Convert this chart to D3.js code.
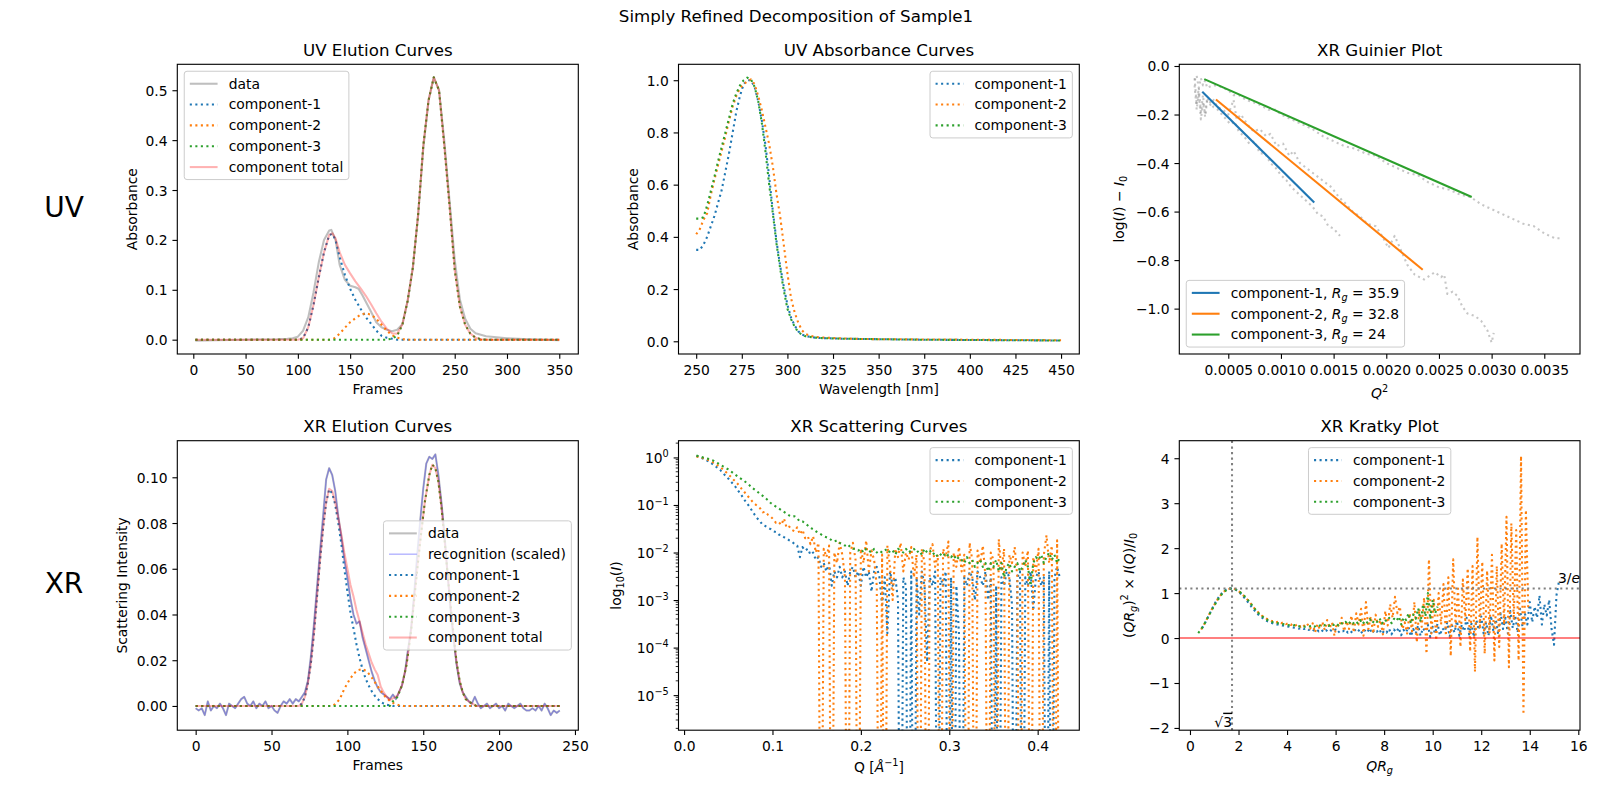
<!DOCTYPE html>
<html><head><meta charset="utf-8">
<script src="https://cdn.jsdelivr.net/npm/d3@7/dist/d3.min.js"></script>
<style>
body{margin:0;background:#fff;}
text{font-family:"DejaVu Sans",sans-serif;}
</style></head>
<body>
<svg id="fig" width="1597" height="789" xmlns="http://www.w3.org/2000/svg"></svg>
<script>
// ======================= DATA =======================
const componentNames = ["component-1","component-2","component-3"];
const rgValues = ["35.9","32.8","24"];

// ---- UV elution: [frame, absorbance]
const uvFrameTicks = [0,50,100,150,200,250,300,350];
const uvAbsTicks = [0,0.1,0.2,0.3,0.4,0.5];
const uvElutionData = [[2,-0.002],[20,-0.001],[50,0],[80,0.001],[90,0.002],[95,0.003],[100,0.006],[105,0.018],[110,0.045],[115,0.095],[120,0.155],[125,0.2],[130,0.219],[132,0.22],[136,0.2],[140,0.15],[145,0.12],[150,0.108],[155,0.105],[158,0.102],[162,0.088],[166,0.072],[170,0.056],[175,0.035],[180,0.025],[185,0.02],[190,0.017],[195,0.02],[200,0.031],[205,0.078],[210,0.145],[215,0.25],[220,0.385],[225,0.48],[230,0.526],[235,0.5],[240,0.4],[245,0.28],[250,0.16],[255,0.08],[260,0.042],[265,0.022],[270,0.013],[280,0.007],[290,0.005],[300,0.003],[320,0.001],[350,-0.001]];
const uvElutionC1 = [[2,0],[100,0],[105,0.003],[110,0.025],[115,0.07],[120,0.125],[125,0.175],[130,0.21],[133,0.212],[136,0.2],[140,0.165],[145,0.13],[150,0.102],[155,0.08],[160,0.062],[165,0.045],[170,0.032],[175,0.018],[180,0.008],[185,0.004],[190,0.002],[195,0],[350,0]];
const uvElutionC2 = [[2,0],[130,0],[135,0.003],[140,0.012],[145,0.024],[150,0.035],[155,0.043],[160,0.05],[165,0.053],[170,0.05],[175,0.042],[180,0.03],[185,0.018],[190,0.009],[195,0.004],[200,0.001],[205,0],[350,0]];
const uvElutionC3 = [[2,0],[185,0],[190,0.002],[195,0.008],[200,0.03],[205,0.078],[210,0.145],[215,0.25],[220,0.39],[225,0.48],[230,0.526],[235,0.5],[240,0.39],[245,0.27],[250,0.14],[255,0.066],[260,0.03],[265,0.012],[270,0.004],[275,0.001],[280,0],[350,0]];
const uvElutionTotal = [[2,0],[100,0],[105,0.003],[110,0.025],[115,0.07],[120,0.125],[125,0.175],[130,0.21],[133,0.213],[136,0.203],[140,0.175],[145,0.15],[150,0.133],[155,0.117],[160,0.103],[165,0.088],[170,0.071],[175,0.053],[180,0.036],[185,0.022],[190,0.013],[195,0.012],[200,0.031],[205,0.078],[210,0.145],[215,0.25],[220,0.39],[225,0.48],[230,0.526],[235,0.5],[240,0.39],[245,0.27],[250,0.14],[255,0.066],[260,0.03],[265,0.012],[270,0.004],[275,0.001],[280,0],[350,0]];

// ---- UV absorbance: [wavelength, absorbance]
const wlTicks = [250,275,300,325,350,375,400,425,450];
const absTicks = [0,0.2,0.4,0.6,0.8,1.0];
const uvAbsC1 = [[250,0.35],[252,0.35],[254,0.37],[256,0.40],[258,0.44],[260,0.48],[262,0.53],[264,0.58],[266,0.65],[268,0.72],[270,0.80],[272,0.88],[274,0.94],[276,0.985],[278,1.0],[280,1.0],[282,0.975],[284,0.92],[286,0.845],[288,0.75],[290,0.63],[292,0.50],[294,0.385],[296,0.29],[298,0.21],[300,0.14],[302,0.09],[304,0.06],[306,0.038],[308,0.026],[310,0.02],[315,0.014],[320,0.012],[330,0.01],[340,0.009],[350,0.008],[375,0.006],[400,0.005],[425,0.004],[450,0.003]];
const uvAbsC2 = [[250,0.41],[252,0.43],[254,0.465],[256,0.49],[258,0.56],[260,0.62],[262,0.675],[264,0.73],[266,0.785],[268,0.845],[270,0.9],[272,0.94],[274,0.97],[276,0.985],[278,0.995],[280,1.003],[282,0.985],[284,0.94],[286,0.885],[288,0.82],[290,0.755],[292,0.67],[294,0.565],[296,0.48],[298,0.37],[300,0.26],[302,0.165],[304,0.11],[306,0.07],[308,0.042],[310,0.028],[312,0.022],[315,0.017],[320,0.014],[330,0.011],[340,0.009],[350,0.008],[375,0.007],[400,0.006],[425,0.005],[450,0.004]];
const uvAbsC3 = [[250,0.47],[252,0.47],[254,0.475],[256,0.52],[258,0.575],[260,0.63],[262,0.69],[264,0.745],[266,0.8],[268,0.855],[270,0.91],[272,0.95],[274,0.98],[276,1.0],[278,1.01],[280,1.003],[282,0.975],[284,0.92],[286,0.835],[288,0.725],[290,0.6],[292,0.49],[294,0.375],[296,0.28],[298,0.195],[300,0.125],[302,0.085],[304,0.055],[306,0.035],[308,0.025],[310,0.019],[315,0.014],[320,0.012],[330,0.01],[340,0.009],[350,0.008],[375,0.006],[400,0.005],[425,0.004],[450,0.003]];

// ---- Guinier: [Q^2, log(I)-I0]
const q2Ticks = [0.0005,0.0010,0.0015,0.0020,0.0025,0.0030,0.0035];
const guinierTicks = [-1.0,-0.8,-0.6,-0.4,-0.2,0.0];
const guinierData1 = [[0.00018,-0.05],[0.0002,-0.16],[0.00022,-0.09],[0.00024,-0.19],[0.00026,-0.12],[0.00028,-0.21],[0.0003,-0.14],[0.00033,-0.15],[0.00036,-0.17],[0.0004,-0.18],[0.00044,-0.2],[0.00048,-0.22],[0.00052,-0.24],[0.00056,-0.23],[0.0006,-0.27],[0.00065,-0.29],[0.0007,-0.32],[0.00075,-0.31],[0.0008,-0.36],[0.00085,-0.36],[0.0009,-0.4],[0.00095,-0.42],[0.001,-0.45],[0.00105,-0.47],[0.0011,-0.5],[0.00115,-0.52],[0.0012,-0.54],[0.00125,-0.56],[0.0013,-0.58],[0.00135,-0.61],[0.0014,-0.62],[0.00145,-0.66],[0.0015,-0.67],[0.00156,-0.7]];
const guinierData2 = [[0.00018,-0.08],[0.0002,-0.18],[0.00022,-0.11],[0.00024,-0.22],[0.00026,-0.15],[0.00028,-0.2],[0.0003,-0.13],[0.00033,-0.16],[0.00036,-0.14],[0.0004,-0.17],[0.00045,-0.18],[0.0005,-0.2],[0.00055,-0.14],[0.00058,-0.22],[0.00062,-0.2],[0.00068,-0.24],[0.00074,-0.27],[0.0008,-0.26],[0.00086,-0.29],[0.0009,-0.28],[0.00096,-0.33],[0.00102,-0.32],[0.00108,-0.37],[0.00112,-0.35],[0.00118,-0.4],[0.00124,-0.42],[0.0013,-0.44],[0.00136,-0.46],[0.00142,-0.48],[0.00148,-0.5],[0.00155,-0.54],[0.00162,-0.57],[0.00168,-0.6],[0.00175,-0.62],[0.00182,-0.65],[0.0019,-0.66],[0.00196,-0.7],[0.00202,-0.75],[0.00208,-0.7],[0.00214,-0.76],[0.0022,-0.82],[0.00227,-0.86],[0.00236,-0.88],[0.00246,-0.85],[0.00252,-0.87],[0.00255,-0.86],[0.00258,-0.94],[0.00263,-0.93],[0.00268,-0.95],[0.00272,-0.99],[0.00277,-1.02],[0.00284,-1.03],[0.0029,-1.05],[0.00296,-1.09],[0.003,-1.14],[0.00302,-1.1]];
const guinierData3 = [[0.00018,-0.06],[0.0002,-0.04],[0.00022,-0.09],[0.00024,-0.05],[0.00026,-0.08],[0.00028,-0.06],[0.0003,-0.09],[0.00035,-0.08],[0.0004,-0.08],[0.00045,-0.09],[0.0005,-0.1],[0.00055,-0.12],[0.0006,-0.12],[0.00067,-0.14],[0.00074,-0.15],[0.0008,-0.16],[0.00088,-0.18],[0.00095,-0.18],[0.001,-0.2],[0.0011,-0.22],[0.0012,-0.24],[0.0013,-0.26],[0.0014,-0.29],[0.0015,-0.31],[0.0016,-0.33],[0.0017,-0.34],[0.0018,-0.36],[0.0019,-0.37],[0.002,-0.4],[0.0021,-0.42],[0.0022,-0.44],[0.0023,-0.45],[0.0024,-0.48],[0.0025,-0.5],[0.0026,-0.51],[0.0027,-0.53],[0.0028,-0.54],[0.0029,-0.57],[0.003,-0.59],[0.0031,-0.61],[0.0032,-0.63],[0.0033,-0.65],[0.0034,-0.66],[0.0035,-0.69],[0.0036,-0.71],[0.00367,-0.71]];
const guinierFit1 = [[0.000253,-0.106],[0.001316,-0.563]];
const guinierFit2 = [[0.000383,-0.138],[0.002346,-0.840]];
const guinierFit3 = [[0.000272,-0.054],[0.002811,-0.540]];

// ---- XR elution: intensity sampled every 2 frames from frame 0 to 240
const xrFrameTicks = [0,50,100,150,200,250];
const xrIntTicks = [0,0.02,0.04,0.06,0.08,0.10];
const xrFrameStep = 2;
const xrElutionData = [
 -0.001,-0.002,-0.001,-0.004,0.002,-0.002,0.000,-0.001,0.001,-0.001,
 -0.004,0.001,0.000,-0.001,0.001,0.003,0.004,0.001,0.000,0.002,
 -0.001,0.001,0.000,0.002,-0.001,0.000,-0.002,-0.003,0.000,0.002,
 0.001,0.003,0.001,0.003,0.002,0.004,0.006,0.011,0.022,0.036,
 0.052,0.068,0.083,0.099,0.104,0.101,0.094,0.083,0.074,0.064,
 0.056,0.047,0.040,0.036,0.037,0.030,0.025,0.020,0.015,0.011,
 0.008,0.006,0.005,0.004,0.003,0.005,0.003,0.006,0.009,0.015,
 0.025,0.034,0.049,0.066,0.081,0.095,0.106,0.109,0.108,0.110,
 0.101,0.089,0.075,0.058,0.042,0.029,0.018,0.010,0.006,0.004,
 0.002,0.001,0.004,0.001,-0.001,0.000,0.001,-0.001,0.000,0.001,
 -0.001,0.000,-0.002,0.001,0.000,-0.001,0.000,0.001,-0.001,-0.002,
 -0.002,-0.001,-0.002,0.000,-0.002,0.001,-0.001,-0.004,-0.002,-0.003,
 -0.002];
const xrElutionC1 = [[0,0],[68,0],[70,0.001],[72,0.004],[74,0.01],[76,0.019],[78,0.032],[80,0.048],[82,0.064],[84,0.078],[86,0.089],[88,0.0947],[90,0.093],[92,0.088],[94,0.08],[96,0.071],[98,0.06],[100,0.05],[102,0.041],[104,0.034],[106,0.027],[108,0.021],[110,0.016],[112,0.012],[114,0.009],[116,0.0065],[118,0.0045],[120,0.003],[122,0.0018],[124,0.001],[126,0.0005],[130,0],[240,0]];
const xrElutionC2 = [[0,0],[90,0],[92,0.0008],[95,0.003],[98,0.0075],[101,0.011],[104,0.014],[107,0.0157],[110,0.0162],[113,0.015],[116,0.0125],[119,0.0095],[122,0.0066],[125,0.004],[128,0.0022],[131,0.001],[134,0.0003],[137,0],[240,0]];
const xrElutionC3 = [[0,0],[128,0],[130,0.002],[133,0.004],[136,0.009],[139,0.018],[142,0.033],[145,0.053],[148,0.072],[151,0.089],[154,0.101],[156,0.1055],[158,0.104],[160,0.098],[162,0.087],[164,0.073],[166,0.058],[168,0.044],[170,0.031],[172,0.019],[174,0.011],[176,0.006],[178,0.003],[181,0.0015],[185,0],[240,0]];
const xrElutionTotal = [[0,0],[68,0],[70,0.001],[72,0.004],[74,0.01],[76,0.019],[78,0.032],[80,0.048],[82,0.064],[84,0.078],[86,0.089],[88,0.095],[90,0.094],[92,0.089],[94,0.082],[96,0.075],[98,0.067],[100,0.06],[102,0.053],[104,0.048],[106,0.042],[108,0.037],[110,0.032],[112,0.027],[114,0.023],[116,0.019],[118,0.016],[120,0.0135],[122,0.0084],[124,0.0058],[126,0.004],[128,0.0025],[130,0.0033],[133,0.0045],[136,0.009],[139,0.018],[142,0.033],[145,0.053],[148,0.072],[151,0.089],[154,0.101],[156,0.1055],[158,0.104],[160,0.098],[162,0.087],[164,0.073],[166,0.058],[168,0.044],[170,0.031],[172,0.019],[174,0.011],[176,0.006],[178,0.003],[181,0.0015],[185,0],[240,0]];

// ---- XR scattering: I(Q), Q sampled uniformly from qStart to qEnd
const qTicks = [0.0,0.1,0.2,0.3,0.4];
const logITicks = [1e-5,1e-4,1e-3,1e-2,1e-1,1];
const qStart = 0.014, qEnd = 0.425;
const scatterC1 = [
 1.08,1.02,0.97,0.92,0.86,0.80,0.73,0.66,0.60,0.54,
 0.47,0.41,0.36,0.31,0.27,0.23,0.19,0.16,0.13,0.11,
 0.092,0.075,0.062,0.052,0.045,0.038,0.036,0.033,0.031,0.028,
 0.027,0.024,0.023,0.021,0.020,0.018,0.017,0.015,0.014,0.008,
 0.013,0.011,0.012,0.009,0.010,0.007,0.008,0.005,0.006,0.004,
 0.006,0.002,0.004,0.003,0.005,0.003,0.004,0.002,0.004,0.005,
 0.003,0.004,0.002,0.005,0.003,0.004,0.0015,0.004,0.005,0.003,
 0.0008,0.003,0.0002,0.004,0.002,0.003,0.001,-0.001,0.003,0.002,
 -0.002,0.004,-0.001,0.003,0.0005,0.004,0.002,0.00005,0.003,0.002,
 0.004,-0.001,0.003,0.002,0.004,-0.001,0.003,-0.002,0.002,0.0002,
 -0.001,0.003,0.002,0.004,0.003,0.001,0.004,0.003,0.002,0.004,
 0.001,0.003,-0.001,0.002,-0.001,0.003,0.002,0.004,0.003,0.0008,
 -0.001,0.003,0.004,-0.001,0.003,0.002,0.004,0.0006,0.003,0.004,
 0.002,0.003,-0.001,0.004,-0.002,0.003,0.005,0.003];
const scatterC2 = [
 1.05,1.02,0.98,0.95,0.90,0.86,0.80,0.74,0.68,0.62,
 0.56,0.50,0.44,0.39,0.34,0.30,0.26,0.22,0.19,0.16,
 0.14,0.12,0.105,0.095,0.085,0.07,0.072,0.062,0.057,0.05,
 0.042,0.044,0.038,0.052,0.033,0.035,0.03,0.028,0.034,0.024,
 0.030,0.02,0.022,0.015,0.022,0.01,0.016,-0.002,0.012,0.008,
 0.014,-0.001,0.010,0.006,0.016,0.009,0.003,-0.001,0.010,0.016,
 0.007,-0.002,0.012,0.006,0.018,0.004,0.011,0.007,0.002,-0.001,
 0.009,-0.002,0.014,0.005,0.001,0.012,0.008,0.016,0.004,0.010,
 0.007,0.013,0.003,0.009,-0.001,0.012,0.006,-0.002,0.011,0.015,
 0.005,0.009,-0.001,0.012,0.008,0.017,-0.002,0.010,0.005,0.013,
 0.004,0.009,-0.001,0.016,0.007,-0.002,0.011,0.006,0.014,0.003,
 -0.001,0.010,0.007,-0.002,0.019,0.004,0.012,-0.001,0.009,0.006,
 0.013,0.003,-0.002,0.010,0.005,0.011,-0.001,0.008,0.004,0.012,
 -0.002,0.009,0.023,0.006,0.014,-0.001,0.018,-0.002];
const scatterC3 = [
 1.10,1.05,1.02,0.98,0.95,0.92,0.88,0.82,0.76,0.70,
 0.65,0.60,0.56,0.51,0.46,0.42,0.38,0.35,0.32,0.29,
 0.26,0.23,0.21,0.19,0.17,0.155,0.14,0.125,0.11,0.10,
 0.092,0.085,0.078,0.072,0.066,0.060,0.057,0.058,0.052,0.045,
 0.045,0.041,0.037,0.033,0.031,0.028,0.026,0.024,0.022,0.021,
 0.020,0.018,0.017,0.018,0.016,0.015,0.014,0.015,0.013,0.012,
 0.012,0.011,0.012,0.010,0.012,0.011,0.010,0.012,0.010,0.011,
 0.010,0.011,0.012,0.010,0.011,0.009,0.012,0.011,0.010,0.012,
 0.010,0.011,0.012,0.010,0.011,0.009,0.012,0.010,0.011,0.009,
 0.010,0.008,0.009,0.010,0.008,0.009,0.008,0.009,0.007,0.008,
 0.007,0.006,0.008,0.006,0.007,0.005,0.006,0.007,0.005,0.006,
 0.004,0.006,0.005,0.007,0.004,0.006,0.003,0.005,0.006,0.004,
 0.005,0.006,0.004,0.005,0.007,0.005,0.002,0.006,0.008,0.007,
 0.009,0.006,0.008,0.010,0.007,0.009,0.006,0.008];

// ---- Kratky: y values sampled uniformly in QRg between given limits
const kratkyXTicks = [0,2,4,6,8,10,12,14,16];
const kratkyYTicks = [-2,-1,0,1,2,3,4];
const kratkyRange1 = [0.50, 15.20];
const kratkyRange2 = [0.46, 13.94];
const kratkyRange3 = [0.34, 10.20];
const kratkyC1 = [
 0.22,0.31,0.42,0.53,0.64,0.75,0.84,0.92,0.99,1.04,
 1.08,1.10,1.10,1.09,1.07,1.03,0.98,0.92,0.86,0.79,
 0.72,0.65,0.59,0.53,0.48,0.44,0.40,0.37,0.35,0.33,
 0.31,0.30,0.29,0.28,0.27,0.26,0.25,0.24,0.23,0.22,
 0.21,0.23,0.20,0.22,0.18,0.21,0.17,0.20,0.15,0.19,
 0.14,0.18,0.13,0.17,0.14,0.19,0.12,0.17,0.15,0.19,
 0.12,0.16,0.11,0.18,0.13,0.20,0.10,0.17,0.12,0.22,
 0.10,0.18,0.14,0.20,0.09,0.16,0.12,0.21,0.08,0.19,
 0.13,0.23,0.06,0.18,0.12,0.25,0.04,0.20,0.10,0.28,
 0.05,0.22,0.14,0.30,0.02,0.25,0.10,0.32,0.06,0.22,
 0.15,0.35,0.03,0.28,0.12,0.38,0.05,0.30,0.15,0.45,
 0.08,0.32,0.02,0.40,0.18,0.48,0.10,0.35,0.05,0.50,
 0.15,0.42,0.08,0.55,0.20,0.45,0.10,0.60,0.22,0.50,
 0.12,0.65,0.25,0.55,0.30,0.80,0.35,0.70,0.45,0.95,
 0.30,0.75,0.50,0.85,0.20,-0.15,0.95,1.25];
const kratkyC2 = [
 0.19,0.28,0.38,0.49,0.60,0.70,0.79,0.88,0.95,1.01,
 1.06,1.09,1.10,1.10,1.09,1.06,1.02,0.97,0.92,0.86,
 0.80,0.73,0.66,0.60,0.55,0.50,0.47,0.43,0.41,0.38,
 0.38,0.35,0.37,0.33,0.35,0.31,0.33,0.29,0.32,0.28,
 0.31,0.25,0.30,0.24,0.30,0.21,0.33,0.12,0.31,0.20,
 0.36,0.18,0.40,0.22,0.35,0.05,0.33,0.25,0.45,0.15,
 0.38,0.20,0.50,0.12,0.55,0.30,0.65,0.05,0.80,0.20,
 0.48,0.10,0.52,0.25,0.40,0.08,0.60,0.28,0.75,0.45,
 0.92,0.55,0.70,0.20,0.35,0.10,0.55,0.15,0.80,-0.10,
 0.65,0.25,0.90,-0.35,1.75,0.10,0.85,-0.05,1.00,0.30,
 1.20,0.05,1.35,-0.40,1.75,0.25,1.10,-0.20,1.30,0.40,
 1.55,-0.30,1.60,-0.75,2.25,0.20,1.70,-0.35,1.50,0.10,
 1.85,-0.50,1.60,-0.20,2.10,0.30,2.70,-0.65,2.55,0.40,
 2.40,-0.50,4.05,-1.70,2.85,0.60];
const kratkyC3 = [
 0.11,0.18,0.26,0.36,0.46,0.56,0.66,0.75,0.84,0.92,
 0.99,1.04,1.08,1.10,1.10,1.09,1.07,1.04,0.99,0.94,
 0.88,0.82,0.75,0.68,0.61,0.55,0.50,0.46,0.42,0.39,
 0.37,0.35,0.34,0.33,0.32,0.31,0.30,0.29,0.28,0.27,
 0.29,0.27,0.26,0.27,0.25,0.27,0.26,0.28,0.25,0.29,
 0.27,0.30,0.28,0.31,0.27,0.32,0.29,0.33,0.28,0.34,
 0.31,0.36,0.30,0.37,0.32,0.38,0.33,0.40,0.31,0.39,
 0.34,0.42,0.33,0.40,0.36,0.44,0.32,0.41,0.37,0.45,
 0.33,0.43,0.38,0.48,0.30,0.46,0.40,0.55,0.32,0.52,
 0.43,0.66,0.36,0.75,0.48,1.00,0.42,0.85,0.55,0.70];

// ======================= RENDERING =======================
const PT = 100/72, FS = 10*PT, TFS = 12*PT, LW = 1.5*PT;
const DOT = LW + " " + (1.65*LW);
const TL = 3.5*PT, TP = 3.5*PT;
const COLORS = ["#1f77b4","#ff7f0e","#2ca02c"];
const COLS = [[177.3,578.3],[678.5,1079.3],[1179.3,1580]];
const ROWS = [[64.3,354],[440.7,730.2]];
const svg = d3.select("#fig");

function rich(t, segs, fs) {
  if (typeof segs === "string") { t.text(segs); return; }
  let off = 0;
  segs.forEach(s => {
    const sp = t.append("tspan").text(s.t);
    const target = s.sub ? 0.22*fs : (s.sup ? -0.42*fs : 0);
    if (target !== off) { sp.attr("dy", target - off); off = target; }
    if (s.sub || s.sup) sp.attr("font-size", 0.7*fs);
    if (s.it) sp.attr("font-style", "italic");
  });
}

function makePanel(id, col, row, xs, ys) {
  const [l, r] = COLS[col], [t, b] = ROWS[row];
  const P = {id, left: l, right: r, top: t, bottom: b};
  P.x = xs.range([l, r]); P.y = ys.range([b, t]);
  svg.append("clipPath").attr("id", "c" + id).append("rect")
    .attr("x", l).attr("y", t).attr("width", r - l).attr("height", b - t);
  P.g = svg.append("g");
  P.plot = P.g.append("g").attr("clip-path", `url(#c${id})`);
  return P;
}

function drawLine(P, pts, st) {
  const yv = st.log ? (v => P.y(v > 0 ? v : 1e-12)) : (v => P.y(v));
  P.plot.append("path").datum(pts)
    .attr("d", d3.line().x(d => P.x(d[0])).y(d => yv(d[1])))
    .attr("fill", "none").attr("stroke", st.color)
    .attr("stroke-width", st.width || LW)
    .attr("stroke-dasharray", st.dash ? DOT : null)
    .attr("stroke-linejoin", "round")
    .attr("stroke-opacity", st.opacity == null ? 1 : st.opacity);
}

function drawAxes(P, xt, xf, yt, yf) {
  const bx = P.g.append("g").attr("transform", `translate(0,${P.bottom})`)
    .call(d3.axisBottom(P.x).tickValues(xt).tickFormat(xf).tickSize(TL).tickPadding(TP));
  const ly = P.g.append("g").attr("transform", `translate(${P.left},0)`)
    .call(d3.axisLeft(P.y).tickValues(yt).tickFormat(yf).tickSize(TL).tickPadding(TP));
  [bx, ly].forEach(a => {
    a.select(".domain").remove();
    a.attr("font-size", FS).attr("font-family", "DejaVu Sans");
    a.selectAll(".tick line").attr("stroke-width", 0.8*PT).attr("stroke", "#000");
    a.selectAll(".tick text").attr("fill", "#000");
  });
  bx.selectAll(".tick text").attr("dy", "0.8em");
  ly.selectAll(".tick text").attr("dy", "0.36em");
  return {bx, ly};
}

function spines(P) {
  P.g.append("rect").attr("x", P.left).attr("y", P.top)
    .attr("width", P.right - P.left).attr("height", P.bottom - P.top)
    .attr("fill", "none").attr("stroke", "#000").attr("stroke-width", 0.8*PT);
}

function title(P, s) {
  P.g.append("text").attr("x", (P.left + P.right)/2).attr("y", P.top - 6*PT)
    .attr("text-anchor", "middle").attr("font-size", TFS).text(s);
}
function xlabel(P, segs, off) {
  const t = P.g.append("text").attr("x", (P.left + P.right)/2).attr("y", P.bottom + off)
    .attr("text-anchor", "middle").attr("font-size", FS);
  rich(t, segs, FS);
}
function ylabel(P, segs, off) {
  const x = P.left - off, y = (P.top + P.bottom)/2;
  const t = P.g.append("text").attr("x", x).attr("y", y)
    .attr("transform", `rotate(-90,${x},${y})`)
    .attr("text-anchor", "middle").attr("font-size", FS);
  rich(t, segs, FS);
}

function legend(P, items, loc) {
  const pad = 0.4*FS, hl = 2*FS, htp = 0.8*FS, ls = 0.5*FS, bap = 0.5*FS;
  const g = svg.append("g");
  const frame = g.append("rect");
  const texts = items.map(it => {
    const t = g.append("text").attr("font-size", FS);
    rich(t, it.label, FS);
    return t;
  });
  const maxW = d3.max(texts, t => t.node().getComputedTextLength());
  const W = pad + hl + htp + maxW + pad;
  const H = 2*pad + items.length*FS + (items.length - 1)*ls;
  let bx, by;
  if (loc === "upper left") { bx = P.left + bap; by = P.top + bap; }
  else if (loc === "upper right") { bx = P.right - bap - W; by = P.top + bap; }
  else if (loc === "lower left") { bx = P.left + bap; by = P.bottom - bap - H; }
  else if (loc === "center right") { bx = P.right - bap - W; by = (P.top + P.bottom)/2 - H/2; }
  else { bx = (P.left + P.right)/2 - W/2; by = P.top + bap; }
  frame.attr("x", bx).attr("y", by).attr("width", W).attr("height", H)
    .attr("rx", 0.2*FS).attr("ry", 0.2*FS)
    .attr("fill", "#fff").attr("fill-opacity", 0.8)
    .attr("stroke", "#cccccc").attr("stroke-width", 1);
  items.forEach((it, i) => {
    const cy = by + pad + FS/2 + i*(FS + ls);
    g.append("line").attr("x1", bx + pad).attr("x2", bx + pad + hl)
      .attr("y1", cy).attr("y2", cy)
      .attr("stroke", it.color).attr("stroke-width", it.width || LW)
      .attr("stroke-opacity", it.opacity == null ? 1 : it.opacity)
      .attr("stroke-dasharray", it.dash ? DOT : null);
    texts[i].attr("x", bx + pad + hl + htp).attr("y", cy + 0.35*FS);
  });
}

const fmt1 = d3.format(".1f"), fmt2 = d3.format(".2f"), fmt4 = d3.format(".4f"), fmtd = d3.format("d");
const GRAY = "#808080";

// ---------- Panel 1: UV Elution Curves ----------
{
  const P = makePanel("p1", 0, 0, d3.scaleLinear().domain([-15.3, 368.2]), d3.scaleLinear().domain([-0.0287, 0.552]));
  drawLine(P, uvElutionData, {color: GRAY, opacity: 0.5});
  drawLine(P, uvElutionC1, {color: COLORS[0], dash: true});
  drawLine(P, uvElutionC2, {color: COLORS[1], dash: true});
  drawLine(P, uvElutionC3, {color: COLORS[2], dash: true});
  drawLine(P, uvElutionTotal, {color: "#ff0000", opacity: 0.3});
  drawAxes(P, uvFrameTicks, fmtd, uvAbsTicks, fmt1);
  spines(P);
  title(P, "UV Elution Curves");
  xlabel(P, "Frames", 39.5);
  ylabel(P, "Absorbance", 40);
  legend(P, [
    {label: "data", color: GRAY, opacity: 0.5},
    {label: componentNames[0], color: COLORS[0], dash: true},
    {label: componentNames[1], color: COLORS[1], dash: true},
    {label: componentNames[2], color: COLORS[2], dash: true},
    {label: "component total", color: "#ff0000", opacity: 0.3}
  ], "upper left");
}

// ---------- Panel 2: UV Absorbance Curves ----------
{
  const P = makePanel("p2", 1, 0, d3.scaleLinear().domain([240.3, 460]), d3.scaleLinear().domain([-0.0487, 1.061]));
  drawLine(P, uvAbsC1, {color: COLORS[0], dash: true});
  drawLine(P, uvAbsC2, {color: COLORS[1], dash: true});
  drawLine(P, uvAbsC3, {color: COLORS[2], dash: true});
  drawAxes(P, wlTicks, fmtd, absTicks, fmt1);
  spines(P);
  title(P, "UV Absorbance Curves");
  xlabel(P, "Wavelength [nm]", 39.5);
  ylabel(P, "Absorbance", 40);
  legend(P, [0,1,2].map(i => ({label: componentNames[i], color: COLORS[i], dash: true})), "upper right");
}

// ---------- Panel 3: XR Guinier Plot ----------
{
  const P = makePanel("p3", 2, 0, d3.scaleLinear().domain([0.000035, 0.003839]), d3.scaleLinear().domain([-1.187, 0.007]));
  [guinierData1, guinierData2, guinierData3].forEach(d => drawLine(P, d, {color: GRAY, opacity: 0.45, dash: true}));
  [guinierFit1, guinierFit2, guinierFit3].forEach((d, i) => drawLine(P, d, {color: COLORS[i]}));
  drawAxes(P, q2Ticks, fmt4, guinierTicks, fmt1);
  spines(P);
  title(P, "XR Guinier Plot");
  xlabel(P, [{t: "Q", it: true}, {t: "2", sup: true}], 43.5);
  ylabel(P, [{t: "log("}, {t: "I", it: true}, {t: ") − "}, {t: "I", it: true}, {t: "0", sub: true}], 55);
  legend(P, [0,1,2].map(i => ({
    label: [{t: componentNames[i] + ", "}, {t: "R", it: true}, {t: "g", it: true, sub: true}, {t: " = " + rgValues[i]}],
    color: COLORS[i]
  })), "lower left");
}

// ---------- Panel 4: XR Elution Curves ----------
{
  const P = makePanel("p4", 0, 1, d3.scaleLinear().domain([-12.1, 252.2]), d3.scaleLinear().domain([-0.0106, 0.116]));
  const pts = xrElutionData.map((v, i) => [i*xrFrameStep, v]);
  drawLine(P, pts, {color: GRAY, opacity: 0.5});
  drawLine(P, pts, {color: "#0000ff", opacity: 0.3, width: PT});
  drawLine(P, xrElutionC1, {color: COLORS[0], dash: true});
  drawLine(P, xrElutionC2, {color: COLORS[1], dash: true});
  drawLine(P, xrElutionC3, {color: COLORS[2], dash: true});
  drawLine(P, xrElutionTotal, {color: "#ff0000", opacity: 0.3});
  drawAxes(P, xrFrameTicks, fmtd, xrIntTicks, fmt2);
  spines(P);
  title(P, "XR Elution Curves");
  xlabel(P, "Frames", 39.5);
  ylabel(P, "Scattering Intensity", 50.6);
  legend(P, [
    {label: "data", color: GRAY, opacity: 0.5},
    {label: "recognition (scaled)", color: "#0000ff", opacity: 0.3, width: PT},
    {label: componentNames[0], color: COLORS[0], dash: true},
    {label: componentNames[1], color: COLORS[1], dash: true},
    {label: componentNames[2], color: COLORS[2], dash: true},
    {label: "component total", color: "#ff0000", opacity: 0.3}
  ], "center right");
}

// ---------- Panel 5: XR Scattering Curves ----------
{
  const P = makePanel("p5", 1, 1, d3.scaleLinear().domain([-0.0063, 0.4471]), d3.scaleLog().domain([1.83e-6, 2.25]));
  [scatterC1, scatterC2, scatterC3].forEach((arr, c) => {
    const n = arr.length;
    const pts = arr.map((v, i) => [qStart + i*(qEnd - qStart)/(n - 1), v]);
    drawLine(P, pts, {color: COLORS[c], dash: true, log: true});
  });
  const {ly} = drawAxes(P, qTicks, fmt1, logITicks, () => "");
  ly.selectAll(".tick text").each(function(d) {
    const e = Math.round(Math.log10(d));
    const t = d3.select(this);
    t.append("tspan").text("10");
    t.append("tspan").attr("dy", -0.42*FS).attr("font-size", 0.7*FS).text(e < 0 ? "−" + (-e) : String(e));
  });
  const [y0, y1] = P.y.domain();
  const minor = [];
  for (let e = -6; e <= 0; e++) for (let k = 2; k <= 9; k++) {
    const v = k*Math.pow(10, e);
    if (v >= y0 && v <= y1) minor.push(v);
  }
  P.g.selectAll(null).data(minor).enter().append("line")
    .attr("x1", P.left - 2*PT).attr("x2", P.left)
    .attr("y1", d => P.y(d)).attr("y2", d => P.y(d))
    .attr("stroke", "#000").attr("stroke-width", 0.6*PT);
  spines(P);
  title(P, "XR Scattering Curves");
  xlabel(P, [{t: "Q ["}, {t: "Å", it: true}, {t: "−1", sup: true}, {t: "]"}], 42);
  ylabel(P, [{t: "log"}, {t: "10", sub: true}, {t: "("}, {t: "I", it: true}, {t: ")"}], 57.5);
  legend(P, [0,1,2].map(i => ({label: componentNames[i], color: COLORS[i], dash: true})), "upper right");
}

// ---------- Panel 6: XR Kratky Plot ----------
{
  const P = makePanel("p6", 2, 1, d3.scaleLinear().domain([-0.44, 16.07]), d3.scaleLinear().domain([-2.05, 4.39]));
  [[kratkyC1, kratkyRange1], [kratkyC2, kratkyRange2], [kratkyC3, kratkyRange3]].forEach(([arr, rg], c) => {
    const n = arr.length;
    const pts = arr.map((v, i) => [rg[0] + i*(rg[1] - rg[0])/(n - 1), v]);
    drawLine(P, pts, {color: COLORS[c], dash: true});
  });
  const sqrt3 = Math.sqrt(3), peak = 3/Math.E;
  const [xd0, xd1] = P.x.domain(), [yd0, yd1] = P.y.domain();
  drawLine(P, [[xd0, 0], [xd1, 0]], {color: "#ff0000", opacity: 0.5});
  drawLine(P, [[sqrt3, yd0], [sqrt3, yd1]], {color: GRAY, dash: true});
  drawLine(P, [[xd0, peak], [xd1, peak]], {color: GRAY, dash: true});
  drawAxes(P, kratkyXTicks, fmtd, kratkyYTicks, fmtd);
  spines(P);
  const ts = P.g.append("text").attr("x", P.x(sqrt3)).attr("y", P.bottom - 3.5)
    .attr("text-anchor", "end").attr("font-size", FS);
  ts.append("tspan").text("√");
  ts.append("tspan").attr("text-decoration", "overline").text("3");
  const te = P.g.append("text").attr("x", P.right).attr("y", P.y(peak) - 5.5)
    .attr("text-anchor", "end").attr("font-size", FS);
  rich(te, [{t: "3/"}, {t: "e", it: true}], FS);
  title(P, "XR Kratky Plot");
  xlabel(P, [{t: "QR", it: true}, {t: "g", it: true, sub: true}], 41);
  ylabel(P, [{t: "("}, {t: "QR", it: true}, {t: "g", it: true, sub: true}, {t: ")"}, {t: "2", sup: true},
             {t: " × "}, {t: "I", it: true}, {t: "("}, {t: "Q", it: true}, {t: ")/"}, {t: "I", it: true}, {t: "0", sub: true}], 45.3);
  legend(P, [0,1,2].map(i => ({label: componentNames[i], color: COLORS[i], dash: true})), "upper center");
}

// ---------- figure texts ----------
svg.append("text").attr("x", 796).attr("y", 22).attr("text-anchor", "middle")
  .attr("font-size", TFS).text("Simply Refined Decomposition of Sample1");
svg.append("text").attr("x", 64).attr("y", 216.5).attr("text-anchor", "middle")
  .attr("font-size", 28).text("UV");
svg.append("text").attr("x", 64).attr("y", 593).attr("text-anchor", "middle")
  .attr("font-size", 28).text("XR");
</script>
</body></html>
